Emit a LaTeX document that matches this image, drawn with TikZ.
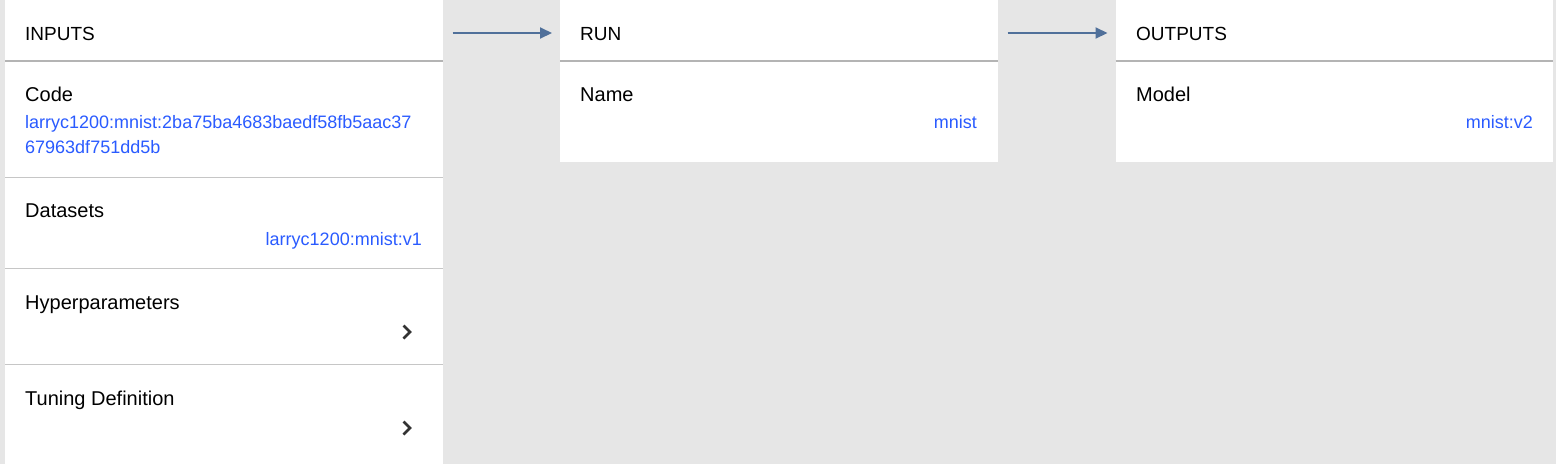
\documentclass[tikz,border=0pt]{standalone}
\usepackage{fontspec}
\setmainfont{Liberation Sans}
\usetikzlibrary{arrows.meta,positioning}
\definecolor{bggray}{HTML}{E6E6E6}
\definecolor{rulegray}{HTML}{B4B4B4}
\definecolor{linegray}{HTML}{C6C6C6}
\definecolor{linkblue}{HTML}{2A5BFF}
\definecolor{arrowblue}{HTML}{50709A}
\definecolor{chevgray}{HTML}{333333}

\begin{document}
\begin{tikzpicture}[x=1pt,y=-1pt,
  panel/.style={fill=white,inner sep=0,outer sep=0,anchor=north west,minimum width=437.5pt},
  head/.style={panel,minimum height=61pt},
  txt/.style={inner sep=0,anchor=base west,font=\fontsize{20}{24}\selectfont},
  htxt/.style={txt,font=\fontsize{19}{23}\selectfont},
  ltxt/.style={txt,text=linkblue,font=\fontsize{18}{22}\selectfont},
  link/.style={ltxt,anchor=base east},
  headrule/.style={draw=rulegray,line width=2pt},
  rowrule/.style={draw=linegray,line width=1pt},
  chevron/.style={draw=chevgray,line width=2.6pt,miter limit=4},
  flow/.style={draw=arrowblue,line width=2pt,-{Triangle[length=12pt,width=11pt]},shorten <=10pt,shorten >=8pt}]

\fill[bggray] (0,0) rectangle (1556,464);
\useasboundingbox (0,0) rectangle (1556,464);

% panels
\node[panel,minimum height=464pt] (inputs) at (5,0) {};
\node[panel,minimum height=162pt] (run) at (560,0) {};
\node[panel,minimum height=162pt] (outputs) at (1115.5,0) {};
\node[head] (inhead) at (5,0) {};
\node[head] (runhead) at (560,0) {};
\node[head] (outhead) at (1115.5,0) {};

% header rules
\draw[headrule] (5,61) -- (442.5,61);
\draw[headrule] (560,61) -- (997.5,61);
\draw[headrule] (1115.5,61) -- (1553,61);

% row rules
\draw[rowrule] (5,177.5) -- (442.5,177.5);
\draw[rowrule] (5,268.5) -- (442.5,268.5);
\draw[rowrule] (5,364.5) -- (442.5,364.5);

% inputs
\node[htxt] (intitle) at (25,40) {INPUTS};
\node[txt] (code) at (25,101) {Code};
\node[ltxt] (codeA) at (25,128) {larryc1200:mnist:2ba75ba4683baedf58fb5aac37};
\node[ltxt] (codeB) at (25,153) {67963df751dd5b};
\node[txt] (datasets) at (25,217) {Datasets};
\node[link] (dsval) at (422,245) {larryc1200:mnist:v1};
\node[txt] (hyper) at (25,309) {Hyperparameters};
\node[txt] (tuning) at (25,405) {Tuning Definition};
\draw[chevron] (403.5,325.5) -- (410,332) -- (403.5,338.5);
\draw[chevron] (403.5,421.5) -- (410,428) -- (403.5,434.5);

% run
\node[htxt] (runtitle) at (580,40) {RUN};
\node[txt] (name) at (580,101) {Name};
\node[link] (nameval) at (977,128) {mnist};

% outputs
\node[htxt] (outtitle) at (1136,40) {OUTPUTS};
\node[txt] (model) at (1136,101) {Model};
\node[link] (modelval) at (1533,128) {mnist:v2};

% flow
\draw[flow] ([yshift=-2.5pt]inhead.east) -- ([yshift=-2.5pt]runhead.west);
\draw[flow] ([yshift=-2.5pt]runhead.east) -- ([yshift=-2.5pt]outhead.west);
\end{tikzpicture}
\end{document}
